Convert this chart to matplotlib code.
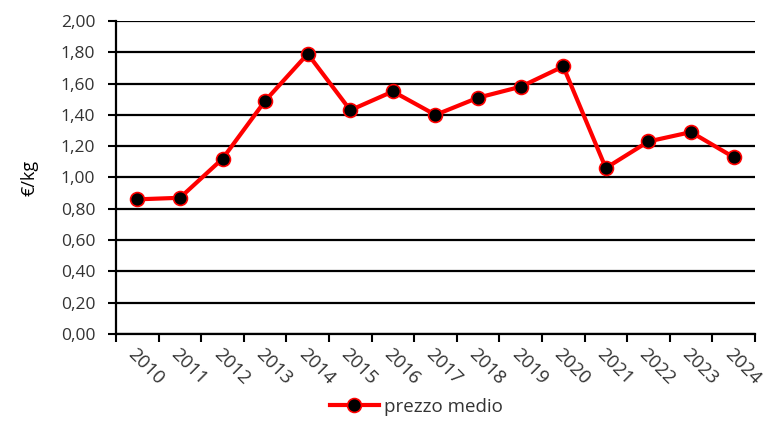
import matplotlib
matplotlib.use("Agg")
import matplotlib.pyplot as plt
from matplotlib.ticker import FuncFormatter, FixedLocator

# ── Data ──────────────────────────────────────────────────────────────────────
years = ["2010", "2011", "2012", "2013", "2014", "2015", "2016", "2017",
         "2018", "2019", "2020", "2021", "2022", "2023", "2024"]
prezzo_medio = [0.86, 0.87, 1.12, 1.49, 1.79, 1.43, 1.55, 1.40,
                1.51, 1.58, 1.71, 1.06, 1.23, 1.29, 1.13]

plt.rcParams["font.family"] = ["Open Sans", "DejaVu Sans"]

fig = plt.figure(figsize=(7.64, 4.21), dpi=100)
ax = fig.add_axes([0.152, 0.207, 0.836, 0.743])

x = list(range(len(years)))
ax.plot(x, prezzo_medio, color="red", linewidth=3,
        marker="o", markersize=10, markerfacecolor="black",
        markeredgecolor="red", markeredgewidth=1.2, label="prezzo medio",
        zorder=3)

ax.set_xlim(-0.5, len(years) - 0.5)
ax.set_ylim(0, 2.0)
ax.set_yticks([i * 0.2 for i in range(11)])
ax.yaxis.set_major_formatter(FuncFormatter(lambda v, p: f"{v:.2f}".replace(".", ",")))
ax.grid(axis="y", color="black", linewidth=1.6)
ax.set_axisbelow(True)

# category boundaries as tick marks, labels at category centres
ax.xaxis.set_major_locator(FixedLocator([i - 0.5 for i in range(len(years) + 1)]))
ax.xaxis.set_major_formatter(FuncFormatter(lambda v, p: ""))
ax.xaxis.set_minor_locator(FixedLocator(x))
ax.set_xticklabels(years, minor=True)
ax.tick_params(axis="x", which="minor", length=0, pad=8)
for lbl in ax.get_xticklabels(minor=True):
    lbl.set_rotation(-45)
    lbl.set_rotation_mode("anchor")
    lbl.set_ha("left")
    lbl.set_va("top")
    lbl.set_fontsize(13.5)
    lbl.set_color("#333333")

ax.tick_params(axis="both", which="major", direction="out", length=6,
               width=1.5, color="black")
ax.tick_params(axis="y", labelsize=12.5, labelcolor="#333333", pad=9)

for side in ["top", "right"]:
    ax.spines[side].set_visible(False)
for side in ["left", "bottom"]:
    ax.spines[side].set_linewidth(1.6)

ax.set_ylabel("€/kg", fontsize=13, color="black", labelpad=16)

fig.legend(loc="lower center", bbox_to_anchor=(0.545, -0.028), frameon=False,
           fontsize=13.5, handlelength=2.6, handletextpad=0.3,
           labelcolor="#333333")

fig.savefig("out.png", dpi=100)
